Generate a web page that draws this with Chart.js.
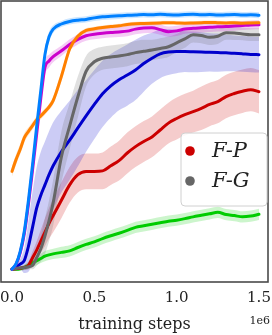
<!DOCTYPE html>
<html>
<head>
<meta charset="utf-8">
<script src="https://cdn.jsdelivr.net/npm/chart.js@4/dist/chart.umd.min.js"></script>
<style>
  body { margin: 0; background: #fff; }
  #wrap { width: 272px; height: 335px; position: relative; }
</style>
</head>
<body>
<div id="wrap"><canvas id="curveChart"></canvas></div>
<script>
// training steps (in units of 1e6)
const steps = [0, 0.025, 0.05, 0.075, 0.1, 0.125, 0.15, 0.175, 0.2, 0.225, 0.25, 0.3, 0.35, 0.4, 0.45, 0.5,
  0.55, 0.6, 0.65, 0.7, 0.75, 0.8, 0.85, 0.9, 0.95, 1.0, 1.05, 1.1, 1.15, 1.2, 1.25, 1.3, 1.35, 1.4, 1.45, 1.5];
const xTicks = [0, 0.5, 1.0, 1.5];

// mean curves (normalised return)
const blueMean = [0, 0.022, 0.07, 0.15, 0.27, 0.41, 0.56, 0.70, 0.84, 0.91, 0.94, 0.96, 0.97, 0.975, 0.978, 0.984,
  0.988, 0.99, 0.992, 0.994, 0.995, 0.997, 0.996, 0.998, 0.996, 0.995, 0.997, 0.998, 0.996, 0.997, 0.995, 0.996, 0.997, 0.995, 0.996, 0.994];
const orangeMean = [0.383, 0.43, 0.47, 0.515, 0.54, 0.562, 0.585, 0.60, 0.617, 0.635, 0.66, 0.755, 0.862, 0.912, 0.935, 0.941,
  0.946, 0.95, 0.953, 0.958, 0.961, 0.962, 0.963, 0.964, 0.965, 0.964, 0.963, 0.964, 0.965, 0.966, 0.965, 0.964, 0.965, 0.963, 0.964, 0.965];
const magentaMean = [0, 0.02, 0.065, 0.14, 0.255, 0.39, 0.53, 0.67, 0.79, 0.815, 0.832, 0.855, 0.88, 0.90, 0.914, 0.92,
  0.924, 0.927, 0.929, 0.932, 0.94, 0.944, 0.945, 0.938, 0.93, 0.933, 0.94, 0.943, 0.945, 0.947, 0.949, 0.95, 0.952, 0.954, 0.956, 0.957];
const grayMean = [0, 0.003, 0.005, 0.007, 0.01, 0.015, 0.045, 0.08, 0.13, 0.19, 0.26, 0.44, 0.56, 0.675, 0.775, 0.812,
  0.826, 0.831, 0.835, 0.84, 0.848, 0.853, 0.858, 0.864, 0.871, 0.886, 0.902, 0.918, 0.915, 0.908, 0.912, 0.926, 0.925, 0.921, 0.918, 0.918];
const navyMean = [0, 0.01, 0.02, 0.035, 0.09, 0.165, 0.24, 0.29, 0.33, 0.37, 0.405, 0.46, 0.505, 0.553, 0.60, 0.645,
  0.687, 0.718, 0.742, 0.76, 0.78, 0.805, 0.826, 0.843, 0.85, 0.852, 0.852, 0.851, 0.85, 0.849, 0.848, 0.847, 0.845, 0.843, 0.841, 0.84];
const redMean = [0, 0.002, 0.004, 0.007, 0.015, 0.045, 0.075, 0.11, 0.145, 0.18, 0.21, 0.27, 0.33, 0.37, 0.383, 0.383,
  0.385, 0.405, 0.425, 0.455, 0.48, 0.50, 0.518, 0.545, 0.572, 0.59, 0.605, 0.617, 0.63, 0.645, 0.656, 0.676, 0.688, 0.697, 0.703, 0.695];
const greenMean = [0, 0, 0.002, 0.007, 0.015, 0.025, 0.033, 0.042, 0.051, 0.056, 0.06, 0.066, 0.072, 0.085, 0.097, 0.107,
  0.12, 0.131, 0.141, 0.152, 0.164, 0.17, 0.176, 0.182, 0.188, 0.192, 0.198, 0.205, 0.211, 0.217, 0.223, 0.214, 0.21, 0.205, 0.208, 0.215];

// spread around each curve
const blueStd = [0.005, 0.01, 0.02, 0.03, 0.03, 0.03, 0.03, 0.03, 0.025, 0.02, 0.015, 0.012, 0.012, 0.012, 0.012, 0.012,
  0.012, 0.012, 0.012, 0.012, 0.012, 0.012, 0.012, 0.012, 0.012, 0.012, 0.012, 0.012, 0.012, 0.012, 0.012, 0.012, 0.012, 0.012, 0.012, 0.012];
const orangeStd = [0.02, 0.02, 0.02, 0.018, 0.016, 0.015, 0.014, 0.013, 0.012, 0.012, 0.015, 0.02, 0.015, 0.01, 0.008, 0.008,
  0.008, 0.008, 0.008, 0.008, 0.008, 0.008, 0.008, 0.008, 0.008, 0.008, 0.008, 0.008, 0.008, 0.008, 0.008, 0.008, 0.008, 0.008, 0.008, 0.008];
const magentaStd = [0.005, 0.01, 0.02, 0.03, 0.03, 0.03, 0.03, 0.03, 0.03, 0.025, 0.022, 0.02, 0.02, 0.02, 0.02, 0.02,
  0.02, 0.02, 0.02, 0.02, 0.02, 0.02, 0.02, 0.02, 0.02, 0.02, 0.018, 0.018, 0.018, 0.018, 0.018, 0.018, 0.018, 0.018, 0.018, 0.018];
const grayStd = [0.005, 0.005, 0.006, 0.008, 0.01, 0.015, 0.03, 0.05, 0.07, 0.08, 0.09, 0.1, 0.09, 0.08, 0.06, 0.05,
  0.045, 0.045, 0.045, 0.045, 0.045, 0.045, 0.04, 0.04, 0.04, 0.035, 0.035, 0.03, 0.03, 0.03, 0.03, 0.028, 0.028, 0.025, 0.025, 0.025];
const navyStd = [0.005, 0.01, 0.02, 0.05, 0.1, 0.14, 0.16, 0.17, 0.17, 0.17, 0.17, 0.16, 0.155, 0.15, 0.14, 0.135,
  0.13, 0.125, 0.12, 0.12, 0.118, 0.11, 0.1, 0.095, 0.09, 0.085, 0.08, 0.08, 0.078, 0.075, 0.075, 0.072, 0.07, 0.07, 0.07, 0.07];
const redStd = [0.005, 0.006, 0.008, 0.01, 0.015, 0.025, 0.035, 0.045, 0.055, 0.06, 0.065, 0.07, 0.07, 0.07, 0.07, 0.07,
  0.072, 0.075, 0.078, 0.08, 0.08, 0.08, 0.08, 0.08, 0.08, 0.082, 0.082, 0.082, 0.085, 0.085, 0.085, 0.085, 0.085, 0.085, 0.085, 0.085];
const greenStd = [0.004, 0.005, 0.008, 0.01, 0.012, 0.015, 0.017, 0.018, 0.02, 0.02, 0.02, 0.022, 0.022, 0.022, 0.022, 0.022,
  0.022, 0.022, 0.022, 0.022, 0.022, 0.022, 0.022, 0.022, 0.022, 0.022, 0.022, 0.022, 0.022, 0.022, 0.022, 0.022, 0.022, 0.022, 0.022, 0.022];

const legendNames = ["F-P", "F-G"];
const legendColors = ["#cc0000", "#666666"];

// top of the list is drawn on top
const series = [
  { mean: blueMean, std: blueStd, color: "0,128,255" },
  { mean: orangeMean, std: orangeStd, color: "255,128,0" },
  { mean: magentaMean, std: magentaStd, color: "204,0,204" },
  { mean: grayMean, std: grayStd, color: "102,102,102" },
  { mean: navyMean, std: navyStd, color: "0,0,204" },
  { mean: redMean, std: redStd, color: "204,0,0" },
  { mean: greenMean, std: greenStd, color: "0,204,0" }
];

const datasets = [];
series.forEach((s, k) => {
  datasets.push({
    data: steps.map((x, i) => ({ x: x, y: s.mean[i] })),
    borderColor: "rgb(" + s.color + ")",
    borderWidth: 3,
    pointRadius: 0,
    fill: false,
    cubicInterpolationMode: "monotone",
    borderJoinStyle: "round",
    borderCapStyle: "round",
    order: k
  });
});
series.forEach((s, k) => {
  datasets.push({
    data: steps.map((x, i) => ({ x: x, y: s.mean[i] + s.std[i] })),
    borderWidth: 0,
    pointRadius: 0,
    backgroundColor: "rgba(" + s.color + ",0.2)",
    fill: "+1",
    cubicInterpolationMode: "monotone",
    order: 20 + k * 2
  });
  datasets.push({
    data: steps.map((x, i) => ({ x: x, y: s.mean[i] - s.std[i] })),
    borderWidth: 0,
    pointRadius: 0,
    fill: false,
    cubicInterpolationMode: "monotone",
    order: 21 + k * 2
  });
});

// frame, offset label and legend box
const decorations = {
  id: "decorations",
  afterDraw(chart) {
    const { ctx, chartArea: a } = chart;
    ctx.save();
    ctx.strokeStyle = "#4a4a4a";
    ctx.lineWidth = 1.6;
    ctx.strokeRect(a.left, a.top, a.right - a.left, a.bottom - a.top);

    ctx.fillStyle = "#222";
    ctx.font = "11px 'DejaVu Serif'";
    ctx.textAlign = "right";
    ctx.textBaseline = "alphabetic";
    ctx.fillText("1e6", 270, 324);

    const bx = 181, by = 133, bw = 86, bh = 73;
    ctx.beginPath();
    ctx.roundRect(bx, by, bw, bh, 4);
    ctx.fillStyle = "rgba(255,255,255,0.85)";
    ctx.fill();
    ctx.strokeStyle = "#d0d0d0";
    ctx.lineWidth = 1;
    ctx.stroke();

    legendNames.forEach((name, i) => {
      const cy = 151 + i * 30;
      ctx.beginPath();
      ctx.arc(190, cy, 4.8, 0, Math.PI * 2);
      ctx.fillStyle = legendColors[i];
      ctx.fill();
      ctx.fillStyle = "#222";
      ctx.font = "italic 21px 'DejaVu Serif'";
      ctx.textAlign = "left";
      ctx.textBaseline = "middle";
      ctx.fillText(name, 212, cy + 1);
    });
    ctx.restore();
  }
};

new Chart(document.getElementById("curveChart"), {
  type: "line",
  data: { datasets: datasets },
  options: {
    responsive: true,
    maintainAspectRatio: false,
    animation: false,
    layout: { padding: { left: 1, right: 4, top: 1, bottom: 1 } },
    plugins: { legend: { display: false }, tooltip: { enabled: false } },
    scales: {
      x: {
        type: "linear",
        min: -0.0668,
        max: 1.5547,
        afterBuildTicks: (scale) => { scale.ticks = xTicks.map(v => ({ value: v })); },
        afterFit: (scale) => {
          scale.paddingLeft = 0;
          scale.paddingRight = 0;
          scale.height = 52;
        },
        ticks: {
          padding: 7,
          color: "#222",
          font: { family: "'DejaVu Serif'", size: 15 },
          callback: (v) => Number(v).toFixed(1)
        },
        grid: { display: false, drawTicks: false },
        border: { display: false },
        title: {
          display: true,
          text: "training steps",
          color: "#222",
          font: { family: "'DejaVu Serif'", size: 16 },
          padding: { top: 4, bottom: 0 }
        }
      },
      y: {
        display: false,
        min: -0.05,
        max: 1.05
      }
    }
  },
  plugins: [decorations]
});
</script>
</body>
</html>
